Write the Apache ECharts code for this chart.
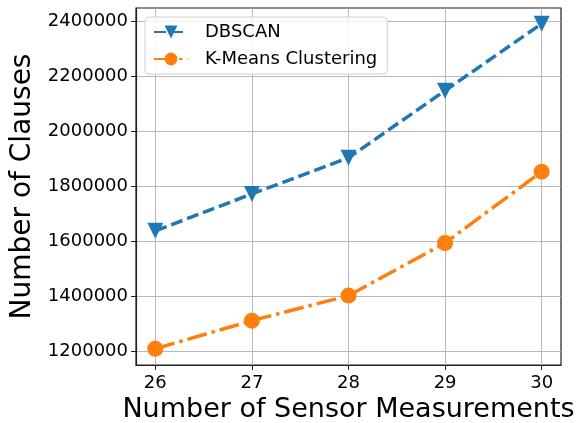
<!DOCTYPE html>
<html>
<head>
<meta charset="utf-8">
<script src="https://cdn.jsdelivr.net/npm/echarts@6/dist/echarts.min.js"></script>
<style>
  html, body { margin: 0; padding: 0; background: #ffffff; }
  #chart { width: 586px; height: 423px; }
</style>
</head>
<body>
<div id="chart"></div>
<script>
// Number of sensor measurements on the x axis
const measurements = [26, 27, 28, 29, 30];
// Clause counts per clustering method
const dbscan = [1638000, 1772000, 1903000, 2147000, 2390000];
const kmeans = [1210000, 1312000, 1403000, 1594000, 1853000];
// Tick labels
const xTicks = [26, 27, 28, 29, 30];
const yTicks = [1200000, 1400000, 1600000, 1800000, 2000000, 2200000, 2400000];

const FONT = 'DejaVu Sans';
const chart = echarts.init(document.getElementById('chart'), null, { renderer: 'canvas' });

const gridLine = { show: true, lineStyle: { color: '#b0b0b0', width: 0.9 } };
const boxLine = { show: true, lineStyle: { color: '#222222', width: 1.2 } };

chart.setOption({
  animation: false,
  backgroundColor: '#ffffff',
  grid: {
    left: 136, right: 25, top: 8, bottom: 58,
    containLabel: false, outerBoundsMode: 'none',
    show: true, borderColor: '#222222', borderWidth: 1.2
  },
  legend: {
    left: 145,
    top: 17,
    orient: 'vertical',
    padding: [6, 10, 6, 8],
    itemWidth: 34,
    itemHeight: 16,
    itemGap: 9,
    backgroundColor: 'rgba(255,255,255,0.85)',
    borderColor: '#d0d0d0',
    borderWidth: 1,
    borderRadius: 4,
    textStyle: { fontFamily: FONT, fontSize: 18, color: '#000', lineHeight: 18, padding: [0, 0, 0, 12] },
    data: ['DBSCAN', 'K-Means Clustering']
  },
  xAxis: {
    type: 'value',
    min: 25.8,
    max: 30.2,
    name: 'Number of Sensor Measurements',
    nameLocation: 'middle',
    nameGap: 21,
    nameTextStyle: { fontFamily: FONT, fontSize: 27, color: '#000' },
    axisLine: boxLine,
    axisTick: { show: true, customValues: xTicks, length: 5, lineStyle: { color: '#222' } },
    axisLabel: { customValues: xTicks, formatter: v => String(v), fontFamily: FONT, fontSize: 18, color: '#000', margin: 9 },
    splitLine: gridLine
  },
  yAxis: {
    type: 'value',
    min: 1151000,
    max: 2447000,
    name: 'Number of Clauses',
    nameLocation: 'middle',
    nameGap: 96,
    nameTextStyle: { fontFamily: FONT, fontSize: 28, color: '#000' },
    axisLine: boxLine,
    axisTick: { show: true, customValues: yTicks, length: 5, lineStyle: { color: '#222' } },
    axisLabel: { customValues: yTicks, formatter: v => String(v), fontFamily: FONT, fontSize: 18, color: '#000', margin: 8 },
    splitLine: gridLine
  },
  series: [
    {
      name: 'DBSCAN',
      type: 'line',
      data: measurements.map((x, i) => [x, dbscan[i]]),
      symbol: 'triangle',
      symbolRotate: 180,
      symbolSize: 16,
      showAllSymbol: true,
      color: '#1f77b4',
      lineStyle: { width: 3.5, type: [12, 5] },
      itemStyle: { color: '#1f77b4' },
      z: 3
    },
    {
      name: 'K-Means Clustering',
      type: 'line',
      data: measurements.map((x, i) => [x, kmeans[i]]),
      symbol: 'circle',
      symbolSize: 16,
      showAllSymbol: true,
      color: '#ff7f0e',
      lineStyle: { width: 3.5, type: [20, 5, 3.5, 5] },
      itemStyle: { color: '#ff7f0e' },
      z: 3
    }
  ]
});
</script>
</body>
</html>
